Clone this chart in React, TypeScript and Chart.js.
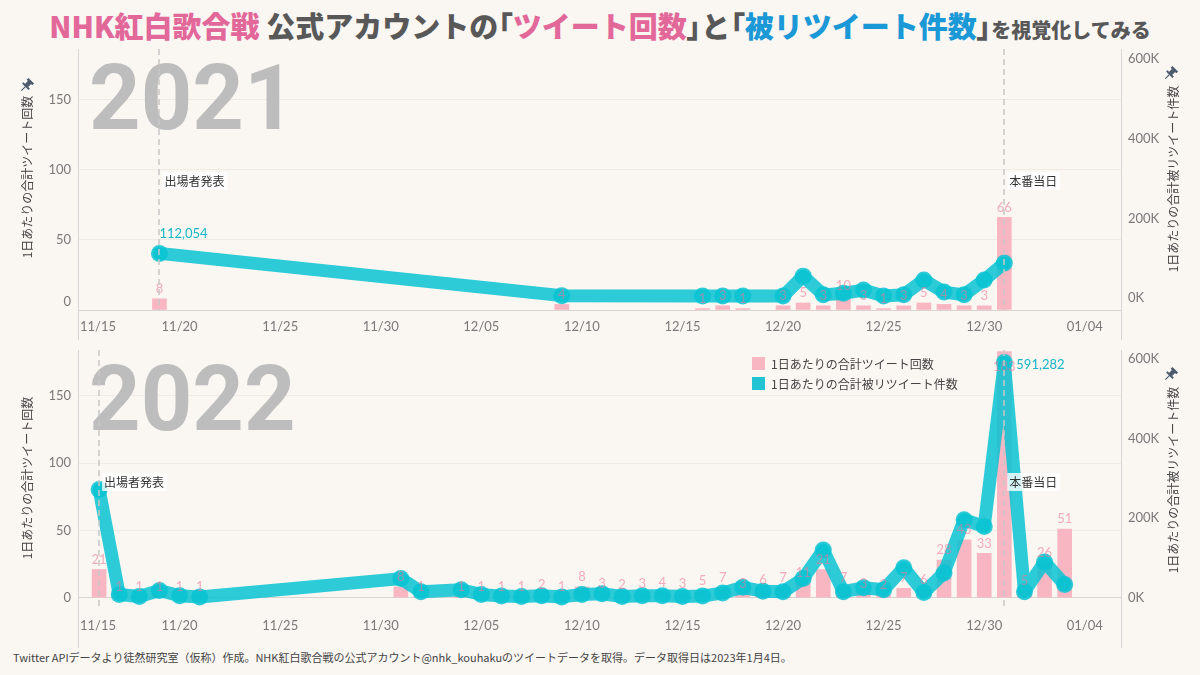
import { useEffect, useRef } from 'react';
import { Chart, registerables } from 'chart.js';

Chart.register(...registerables);

const BG = '#faf6f2';
const BAR_PINK = '#f8b6c3';
const LABEL_PINK = 'rgba(238, 120, 152, 0.6)';
const LINE_TEAL = 'rgba(8, 195, 210, 0.85)';
const TEAL_TEXT = '#17b6c8';
const TICK_GREY = '#7a7a7a';
const TEXT_DARK = '#444444';
const TITLE_PINK = '#e2689a';
const TITLE_BLUE = '#1b98d6';
const CJK = "'Noto Sans CJK JP', sans-serif";
const NUM = "Lato, 'Noto Sans CJK JP', sans-serif";

// axes
const xTickLabels = ['11/15', '11/20', '11/25', '11/30', '12/05', '12/10', '12/15', '12/20', '12/25', '12/30', '01/04'];
const leftTicks = [0, 50, 100, 150];
const rightTicks = [0, 200000, 400000, 600000];
const eventNames = ['出場者発表', '本番当日'];

// 2021
const dates2021 = ['11/19', '12/09', '12/16', '12/17', '12/18', '12/20', '12/21', '12/22', '12/23', '12/24', '12/25', '12/26', '12/27', '12/28', '12/29', '12/30', '12/31'];
const tweets2021 = [8, 4, 1, 3, 1, 3, 5, 3, 10, 3, 1, 3, 5, 4, 3, 3, 66];
const retweets2021 = [112054, 6000, 5000, 5000, 5000, 5000, 55000, 8000, 12000, 20000, 5000, 8000, 45000, 15000, 8000, 45000, 88000];
const events2021 = ['11/19', '12/31'];

// 2022
const dates2022 = ['11/16', '11/17', '11/18', '11/19', '11/20', '11/21', '12/01', '12/02', '12/04', '12/05', '12/06', '12/07', '12/08', '12/09', '12/10', '12/11', '12/12', '12/13', '12/14', '12/15', '12/16', '12/17', '12/18', '12/19', '12/20', '12/21', '12/22', '12/23', '12/24', '12/25', '12/26', '12/27', '12/28', '12/29', '12/30', '12/31', '01/01', '01/02', '01/03'];
const tweets2022 = [21, 1, 1, 1, 1, 1, 8, 1, 1, 1, 1, 1, 2, 1, 8, 3, 2, 3, 4, 3, 5, 7, 3, 6, 7, 11, 21, 7, 3, 2, 7, 6, 28, 43, 33, 183, 5, 26, 51];
const retweets2022 = [272000, 8000, 3000, 18000, 5000, 2000, 48000, 15000, 20000, 8000, 4000, 3000, 5000, 2000, 8000, 10000, 3000, 5000, 5000, 3000, 4000, 12000, 26000, 16000, 15000, 48000, 120000, 15000, 25000, 20000, 75000, 13000, 62000, 196000, 179000, 591282, 15000, 90000, 33000];
const events2022 = ['11/16', '12/31'];

// days since 11/15
function dayIndex(md: string) {
  const [m, d] = md.split('/').map(Number);
  if (m === 11) return d - 15;
  if (m === 12) return d + 15;
  return d + 46;
}

function drawPin(ctx: CanvasRenderingContext2D, x: number, y: number) {
  ctx.save();
  ctx.translate(x, y);
  ctx.rotate(Math.PI / 4);
  ctx.fillStyle = '#4b5b6e';
  ctx.strokeStyle = '#4b5b6e';
  ctx.fillRect(-4, -6, 8, 2.5);
  ctx.fillRect(-2.2, -4, 4.4, 5);
  ctx.fillRect(-4.5, 0.5, 9, 2);
  ctx.lineWidth = 1.2;
  ctx.beginPath();
  ctx.moveTo(0, 2);
  ctx.lineTo(0, 8);
  ctx.stroke();
  ctx.restore();
}

type PanelProps = {
  year: string;
  dates: string[];
  tweets: number[];
  retweets: number[];
  events: string[];
  top: number;
  height: number;
  padTop: number;
  xAxisHeight: number;
  yMin: number;
  yMax: number;
  y1Min: number;
  y1Max: number;
  peakDx: number;
  peakDy: number;
  leftPin: boolean;
  legend: boolean;
  liftZero: boolean;
};

function PanelChart(p: PanelProps) {
  const canvasRef = useRef<HTMLCanvasElement>(null);
  const chartRef = useRef<Chart | null>(null);

  useEffect(() => {
    if (!canvasRef.current) return;
    chartRef.current?.destroy();
    const xs = p.dates.map(dayIndex);
    const tickDays = xTickLabels.map(dayIndex);

    const decor = {
      id: 'decor',
      beforeDatasetsDraw(chart: any) {
        const { ctx, chartArea: a } = chart;
        ctx.save();
        ctx.font = `700 90px Roboto, ${NUM}`;
        ctx.fillStyle = '#bdbdbd';
        ctx.textBaseline = 'alphabetic';
        ctx.textAlign = 'left';
        ctx.fillText(p.year, 89, a.top + 80);
        ctx.restore();
      },
      afterDatasetsDraw(chart: any) {
        const { ctx, chartArea: a, scales } = chart;
        const { x, y, y1 } = scales;
        ctx.save();

        // first date label sits inside the axis, as in the original
        ctx.font = `13px ${NUM}`;
        ctx.fillStyle = TICK_GREY;
        ctx.textAlign = 'left';
        ctx.textBaseline = 'middle';
        ctx.fillText(xTickLabels[0], a.left + 1, a.bottom + 16.8);
        // zero label lifted above the bottom edge
        if (p.liftZero) {
          ctx.textAlign = 'right';
          ctx.fillText(String(leftTicks[0]), a.left - 8, a.bottom - 8);
        }

        // tweet count labels
        ctx.fillStyle = LABEL_PINK;
        ctx.textAlign = 'center';
        p.tweets.forEach((v, i) => {
          const px = x.getPixelForValue(xs[i]);
          const py = Math.max(y.getPixelForValue(v) - 10, a.top + 17);
          ctx.fillText(String(v), px, py);
        });

        // event markers
        ctx.strokeStyle = '#c8c8c8';
        ctx.lineWidth = 1.5;
        ctx.setLineDash([6, 4]);
        p.events.forEach((d) => {
          const px = Math.round(x.getPixelForValue(dayIndex(d)));
          ctx.beginPath();
          ctx.moveTo(px, a.top);
          ctx.lineTo(px, a.bottom);
          ctx.stroke();
        });
        ctx.setLineDash([]);
        ctx.font = `12px ${CJK}`;
        ctx.textAlign = 'left';
        p.events.forEach((d, i) => {
          const px = x.getPixelForValue(dayIndex(d)) + 3;
          const py = a.top + 132;
          const w = ctx.measureText(eventNames[i]).width;
          ctx.fillStyle = 'rgba(255,255,255,0.8)';
          ctx.fillRect(px, py - 9, w + 5, 18);
          ctx.fillStyle = '#333333';
          ctx.fillText(eventNames[i], px + 2, py);
        });

        // peak retweet label
        const k = p.retweets.indexOf(Math.max(...p.retweets));
        ctx.font = `13px ${NUM}`;
        ctx.fillStyle = TEAL_TEXT;
        ctx.fillText(
          p.retweets[k].toLocaleString('en-US'),
          x.getPixelForValue(xs[k]) + p.peakDx,
          y1.getPixelForValue(p.retweets[k]) + p.peakDy,
        );

        // axis lines
        ctx.strokeStyle = '#d6d6d6';
        ctx.lineWidth = 1;
        [a.left - 0.5, a.right + 0.5].forEach((lx) => {
          ctx.beginPath();
          ctx.moveTo(lx, a.top);
          ctx.lineTo(lx, chart.height);
          ctx.stroke();
        });

        // axis titles
        ctx.fillStyle = TEXT_DARK;
        ctx.font = `12px ${CJK}`;
        ctx.textAlign = 'center';
        ctx.save();
        ctx.translate(27, a.top + 128);
        ctx.rotate(-Math.PI / 2);
        ctx.fillText('1日あたりの合計ツイート回数', 0, 0);
        ctx.restore();
        ctx.save();
        ctx.translate(1173, a.top + 130);
        ctx.rotate(-Math.PI / 2);
        ctx.fillText('1日あたりの合計被リツイート件数', 0, 0);
        ctx.restore();
        if (p.leftPin) drawPin(ctx, 27, a.top + 36);
        drawPin(ctx, 1171, a.top + 24);

        // legend
        if (p.legend) {
          ctx.textAlign = 'left';
          ctx.fillStyle = BAR_PINK;
          ctx.fillRect(752, a.top + 7, 13, 13);
          ctx.fillStyle = '#22c3d3';
          ctx.fillRect(752, a.top + 27, 13, 13);
          ctx.fillStyle = TEXT_DARK;
          ctx.fillText('1日あたりの合計ツイート回数', 771, a.top + 14);
          ctx.fillText('1日あたりの合計被リツイート件数', 771, a.top + 34);
        }
        ctx.restore();
      },
    };

    const noVPad = (width: number) => (s: any) => {
      s.width = width;
      s.paddingTop = 0;
      s.paddingBottom = 0;
    };

    chartRef.current = new Chart(canvasRef.current, {
      type: 'bar',
      data: {
        datasets: [
          {
            type: 'bar',
            label: '1日あたりの合計ツイート回数',
            data: xs.map((v, i) => ({ x: v, y: p.tweets[i] })),
            xAxisID: 'x',
            yAxisID: 'y',
            backgroundColor: BAR_PINK,
            barThickness: 14,
            order: 2,
          },
          {
            type: 'line',
            label: '1日あたりの合計被リツイート件数',
            data: xs.map((v, i) => ({ x: v, y: p.retweets[i] })),
            xAxisID: 'x',
            yAxisID: 'y1',
            borderColor: LINE_TEAL,
            backgroundColor: LINE_TEAL,
            pointBackgroundColor: LINE_TEAL,
            borderWidth: 13,
            pointRadius: 8.5,
            pointHoverRadius: 8.5,
            pointBorderWidth: 0,
            tension: 0,
            borderJoinStyle: 'round',
            borderCapStyle: 'round',
            fill: false,
            order: 1,
          },
        ],
      } as any,
      options: {
        animation: false,
        responsive: true,
        maintainAspectRatio: false,
        layout: { padding: { top: p.padTop, bottom: 0, left: 0, right: 0 } },
        scales: {
          x: {
            type: 'linear',
            min: 0,
            max: 51.8,
            offset: false,
            afterBuildTicks: (s: any) => {
              s.ticks = tickDays.map((v) => ({ value: v }));
            },
            afterFit: (s: any) => {
              s.height = p.xAxisHeight;
              s.paddingLeft = 0;
              s.paddingRight = 0;
            },
            ticks: {
              autoSkip: false,
              maxRotation: 0,
              padding: 9,
              color: TICK_GREY,
              font: { family: NUM, size: 13 },
              callback: (_v: any, i: number) => (i === 0 ? '' : xTickLabels[i]),
            },
            grid: { display: false, drawTicks: false },
            border: { display: false },
          },
          y: {
            position: 'left',
            min: p.yMin,
            max: p.yMax,
            afterBuildTicks: (s: any) => {
              s.ticks = leftTicks.map((v) => ({ value: v }));
            },
            afterFit: noVPad(79),
            ticks: {
              padding: 8,
              color: TICK_GREY,
              font: { family: NUM, size: 13 },
              callback: (v: any) => (p.liftZero && v === 0 ? '' : String(v)),
            },
            grid: {
              drawTicks: false,
              color: (c: any) => (c.tick && c.tick.value === 0 ? '#d9d4cf' : '#f1ebe5'),
            },
            border: { display: false },
          },
          y1: {
            position: 'right',
            min: p.y1Min,
            max: p.y1Max,
            afterBuildTicks: (s: any) => {
              s.ticks = rightTicks.map((v) => ({ value: v }));
            },
            afterFit: noVPad(79),
            ticks: {
              padding: 7,
              color: TICK_GREY,
              font: { family: NUM, size: 13 },
              callback: (v: any) => `${Number(v) / 1000}K`,
            },
            grid: { display: false, drawTicks: false },
            border: { display: false },
          },
        },
        plugins: {
          legend: { display: false },
          tooltip: { enabled: false },
        },
      } as any,
      plugins: [decor],
    });
    return () => chartRef.current?.destroy();
  }, []);

  return (
    <div style={{ position: 'absolute', left: 0, top: p.top, width: 1200, height: p.height }}>
      <canvas
        ref={canvasRef}
        role="img"
        aria-label={`${p.year}: ${p.dates.map((d, i) => `${d} ${p.tweets[i]} / ${p.retweets[i]}`).join(', ')}`}
      />
    </div>
  );
}

const palt = { fontFeatureSettings: '"palt"' };

export default function App() {
  return (
    <div style={{ position: 'fixed', left: 0, top: 0, width: 1200, height: 675, background: BG, overflow: 'hidden' }}>
      <div
        style={{
          position: 'absolute',
          top: 5,
          left: 0,
          width: 1200,
          textAlign: 'center',
          fontFamily: CJK,
          fontWeight: 900,
          fontSize: 29,
          lineHeight: '40px',
          color: '#585858',
          whiteSpace: 'nowrap',
        }}
      >
        <span style={{ color: TITLE_PINK }}>NHK紅白歌合戦</span> 公式アカウントの<span style={palt}>「</span>
        <span style={{ color: TITLE_PINK }}>ツイート回数</span>
        <span style={palt}>」</span>と<span style={palt}>「</span>
        <span style={{ color: TITLE_BLUE }}>被リツイート件数</span>
        <span style={palt}>」</span>
        <span style={{ fontSize: 20 }}>を視覚化してみる</span>
      </div>
      <PanelChart
        year="2021"
        dates={dates2021}
        tweets={tweets2021}
        retweets={retweets2021}
        events={events2021}
        top={40}
        height={300}
        padTop={9}
        xAxisHeight={30}
        yMin={0}
        yMax={186}
        y1Min={-30000}
        y1Max={625000}
        peakDx={0}
        peakDy={-20}
        leftPin={true}
        legend={false}
        liftZero={true}
      />
      <PanelChart
        year="2022"
        dates={dates2022}
        tweets={tweets2022}
        retweets={retweets2022}
        events={events2022}
        top={340}
        height={308}
        padTop={10}
        xAxisHeight={39}
        yMin={-8.4}
        yMax={184.2}
        y1Min={-28400}
        y1Max={622600}
        peakDx={12}
        peakDy={2}
        leftPin={false}
        legend={true}
        liftZero={false}
      />
      <div
        style={{
          position: 'absolute',
          left: 13,
          top: 649,
          fontFamily: CJK,
          fontSize: 11,
          lineHeight: '16px',
          color: TEXT_DARK,
          whiteSpace: 'nowrap',
        }}
      >
        Twitter APIデータより徒然研究室（仮称）作成。NHK紅白歌合戦の公式アカウント@nhk_kouhakuのツイートデータを取得。データ取得日は2023年1月4日。
      </div>
    </div>
  );
}
